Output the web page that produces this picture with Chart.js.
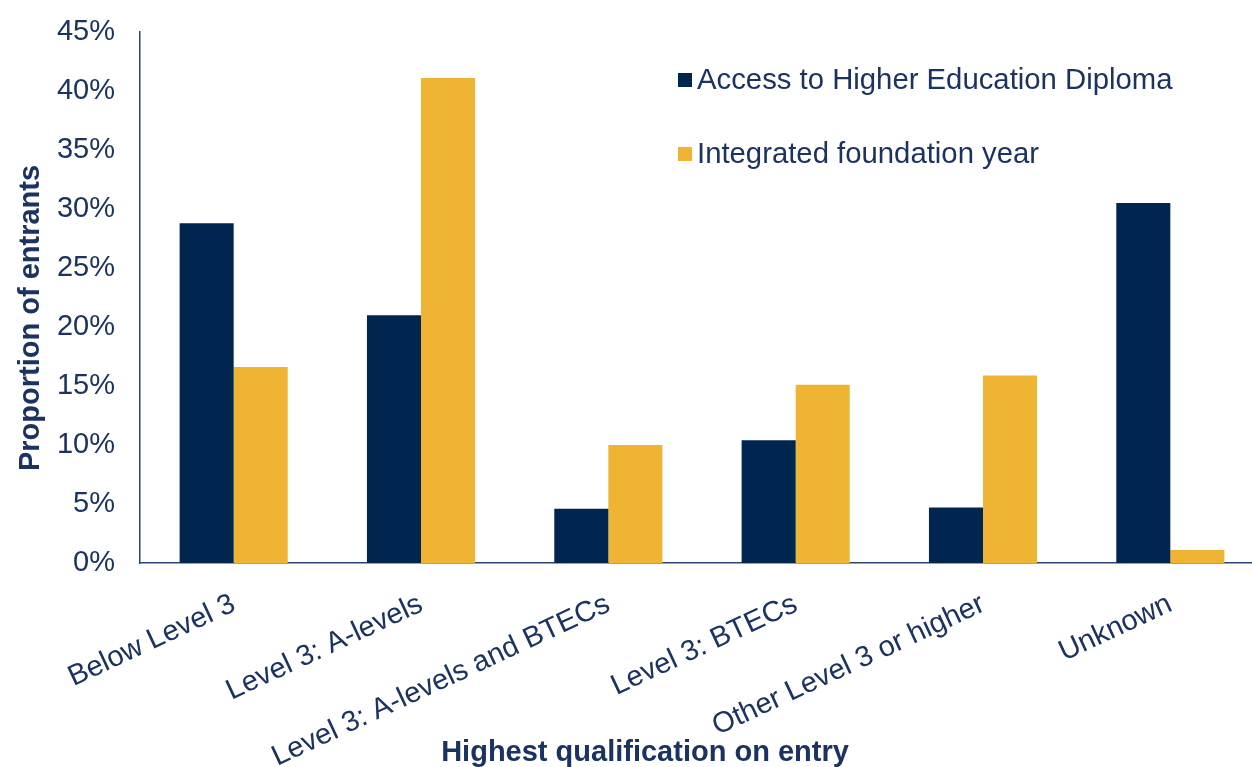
<!DOCTYPE html>
<html>
<head>
<meta charset="utf-8">
<script src="https://cdn.jsdelivr.net/npm/chart.js@4.4.0/dist/chart.umd.min.js"></script>
<style>
  html, body { margin: 0; padding: 0; background: #fff; overflow: hidden; }
  #wrap { width: 1264px; height: 767px; }
</style>
</head>
<body>
<div id="wrap"><canvas id="grafico"></canvas></div>
<script>
// datos
var categorias = ['Below Level 3', 'Level 3: A-levels', 'Level 3: A-levels and BTECs',
                  'Level 3: BTECs', 'Other Level 3 or higher', 'Unknown'];
var accesoDiploma = [28.8, 21.0, 4.6, 10.4, 4.7, 30.5];
var anioFundacion = [16.6, 41.1, 10.0, 15.1, 15.9, 1.1];
var nombresSeries = ['Access to Higher Education Diploma', 'Integrated foundation year'];
var tituloX = 'Highest qualification on entry';
var tituloY = 'Proportion of entrants';

var azul = '#00254F';
var dorado = '#F0B434';
var texto = '#1B3360';
var fuente = 'Liberation Sans, Arial, sans-serif';

// leyenda y titulos dibujados a mano
var extras = {
  id: 'extras',
  afterDraw: function (chart) {
    var ctx = chart.ctx;
    ctx.save();
    ctx.fillStyle = texto;
    ctx.textBaseline = 'middle';
    ctx.font = '29.3px ' + fuente;
    var ys = [80, 154];
    chart.data.datasets.forEach(function (ds, i) {
      ctx.fillStyle = ds.backgroundColor;
      ctx.fillRect(678, ys[i] - 7, 14, 14);
      ctx.fillStyle = texto;
      ctx.textAlign = 'left';
      ctx.fillText(ds.label, 697, ys[i] + 1);
    });
    ctx.font = 'bold 29px ' + fuente;
    ctx.textAlign = 'center';
    ctx.fillText(tituloX, 645, 753);
    ctx.translate(31, 318);
    ctx.rotate(-Math.PI / 2);
    ctx.fillText(tituloY, 0, 0);
    ctx.restore();
  }
};

var ctx = document.getElementById('grafico').getContext('2d');
var chart = new Chart(ctx, {
  type: 'bar',
  data: {
    labels: categorias,
    datasets: [{
      label: nombresSeries[0],
      data: accesoDiploma,
      backgroundColor: azul,
      categoryPercentage: 0.577,
      barPercentage: 1.0
    }, {
      label: nombresSeries[1],
      data: anioFundacion,
      backgroundColor: dorado,
      categoryPercentage: 0.577,
      barPercentage: 1.0
    }]
  },
  options: {
    responsive: true,
    maintainAspectRatio: false,
    animation: false,
    layout: { padding: { top: 32, right: 0, left: 0, bottom: 0 } },
    plugins: {
      legend: { display: false },
      tooltip: { enabled: false }
    },
    scales: {
      x: {
        grid: { display: false, drawTicks: false },
        border: { display: true, color: '#2B4570', width: 1.5 },
        ticks: {
          color: texto,
          font: { family: fuente, size: 29 },
          minRotation: 25,
          maxRotation: 25,
          autoSkip: false,
          padding: 24
        },
        afterFit: function (scale) { scale.height = 204; }
      },
      y: {
        min: 0,
        max: 45,
        grid: { display: false, drawTicks: false },
        border: { display: true, color: '#2B4570', width: 1.5 },
        ticks: {
          stepSize: 5,
          color: texto,
          font: { family: fuente, size: 29 },
          padding: 25,
          callback: function (v) { return v + '%'; }
        },
        afterFit: function (scale) {
          scale.width = 140;
          scale.paddingTop = 0;
          scale.paddingBottom = 0;
        }
      }
    }
  },
  plugins: [extras]
});
</script>
</body>
</html>
